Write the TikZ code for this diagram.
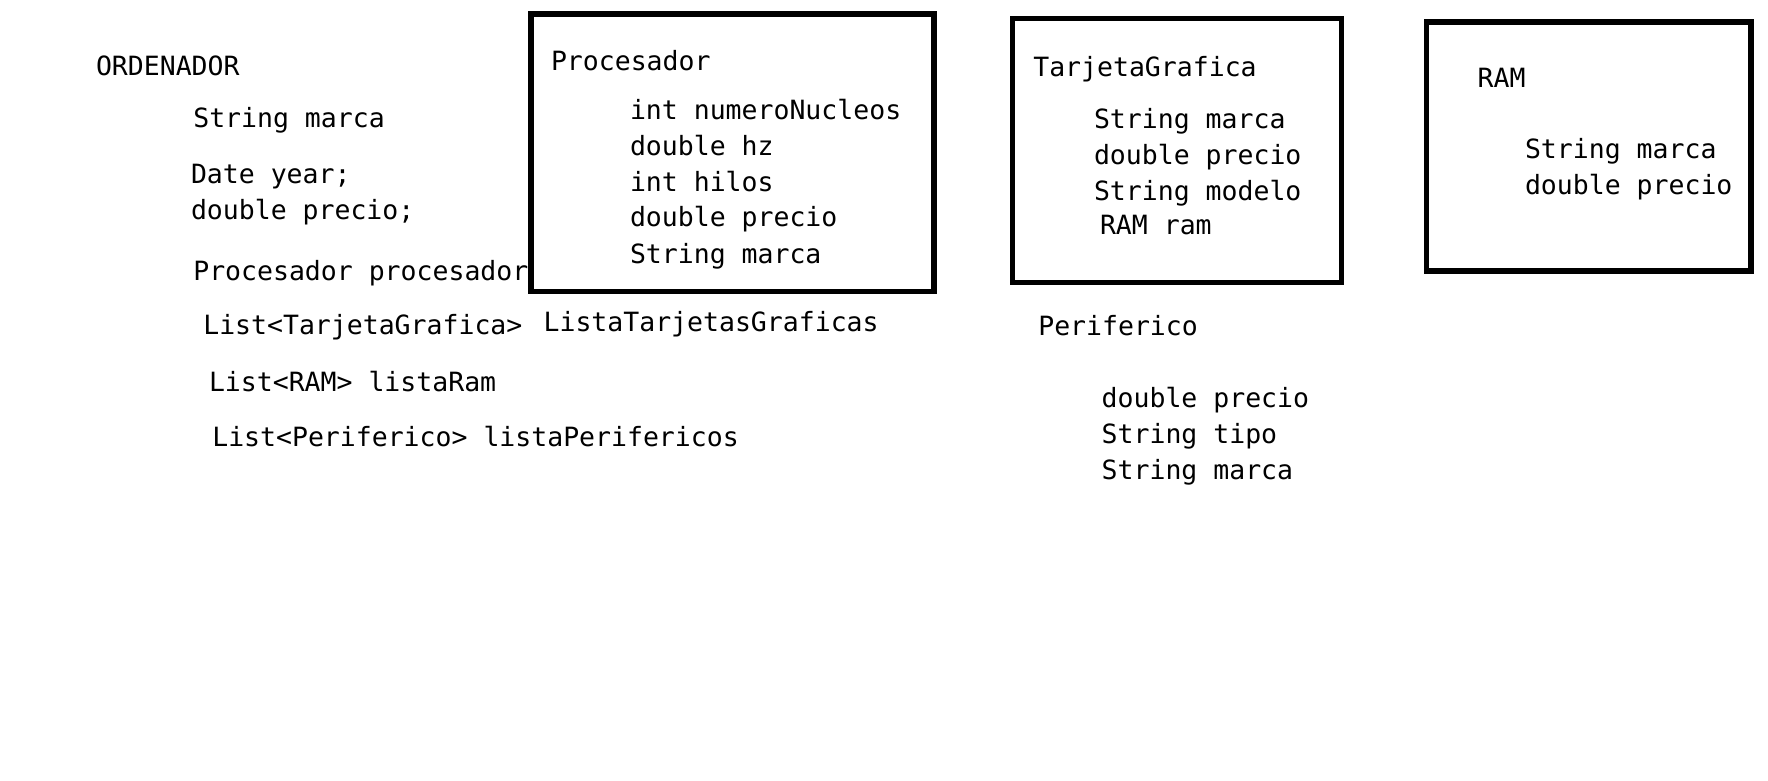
\documentclass[tikz,border=0pt]{standalone}
\usepackage{fontspec}
\newfontfamily\codefont{DejaVu Sans Mono}
\begin{document}
\begin{tikzpicture}[x=1pt,y=-1pt,
  txt/.style={inner sep=0pt,outer sep=0pt,anchor=base west,font=\codefont\fontsize{26.5}{32}\selectfont},
  boxline/.style={draw=black,line width=5.5pt}]
\useasboundingbox[fill=white] (0,0) rectangle (1768,780);
% ORDENADOR
\node[txt] (ord) at (96,75) {ORDENADOR};
\node[txt] (ordmarca) at (193.3,127.3) {String marca};
\node[txt] (ordyear) at (191,183.3) {Date year;};
\node[txt] (ordprecio) at (191,219) {double precio;};
\node[txt] (ordproc) at (193.3,280.7) {Procesador procesador};
\node[txt] (ordtg) at (203.3,334) {List<TarjetaGrafica>};
\node[txt] (ordtglista) at (543.6,331) {ListaTarjetasGraficas};
\node[txt] (ordram) at (209,391.7) {List<RAM> listaRam};
\node[txt] (ordper) at (212.3,446.7) {List<Periferico> listaPerifericos};
% Procesador
\draw[boxline] (531,13.8) rectangle (934,291.5);
\node[txt] (proc) at (551,70) {Procesador};
\node[txt] (proc1) at (630,119) {int numeroNucleos};
\node[txt] (proc2) at (630,155) {double hz};
\node[txt] (proc3) at (630,191) {int hilos};
\node[txt] (proc4) at (630,226.7) {double precio};
\node[txt] (proc5) at (630,263.3) {String marca};
% TarjetaGrafica
\draw[boxline] (1012.5,18.5) rectangle (1341.5,282.5);
\node[txt] (tg) at (1033.3,76) {TarjetaGrafica};
\node[txt] (tg1) at (1094,128.3) {String marca};
\node[txt] (tg2) at (1094,164) {double precio};
\node[txt] (tg3) at (1094,200) {String modelo};
\node[txt] (tg4) at (1100,234.3) {RAM ram};
% RAM
\draw[boxline] (1426.7,21.8) rectangle (1751,270.8);
\node[txt] (ram) at (1477.7,87.3) {RAM};
\node[txt] (ram1) at (1525,158.3) {String marca};
\node[txt] (ram2) at (1525,194.3) {double precio};
% Periferico
\node[txt] (per) at (1038.3,335) {Periferico};
\node[txt] (per1) at (1101.7,407.7) {double precio};
\node[txt] (per2) at (1101.7,443.3) {String tipo};
\node[txt] (per3) at (1101.7,479.3) {String marca};
\end{tikzpicture}
\end{document}
